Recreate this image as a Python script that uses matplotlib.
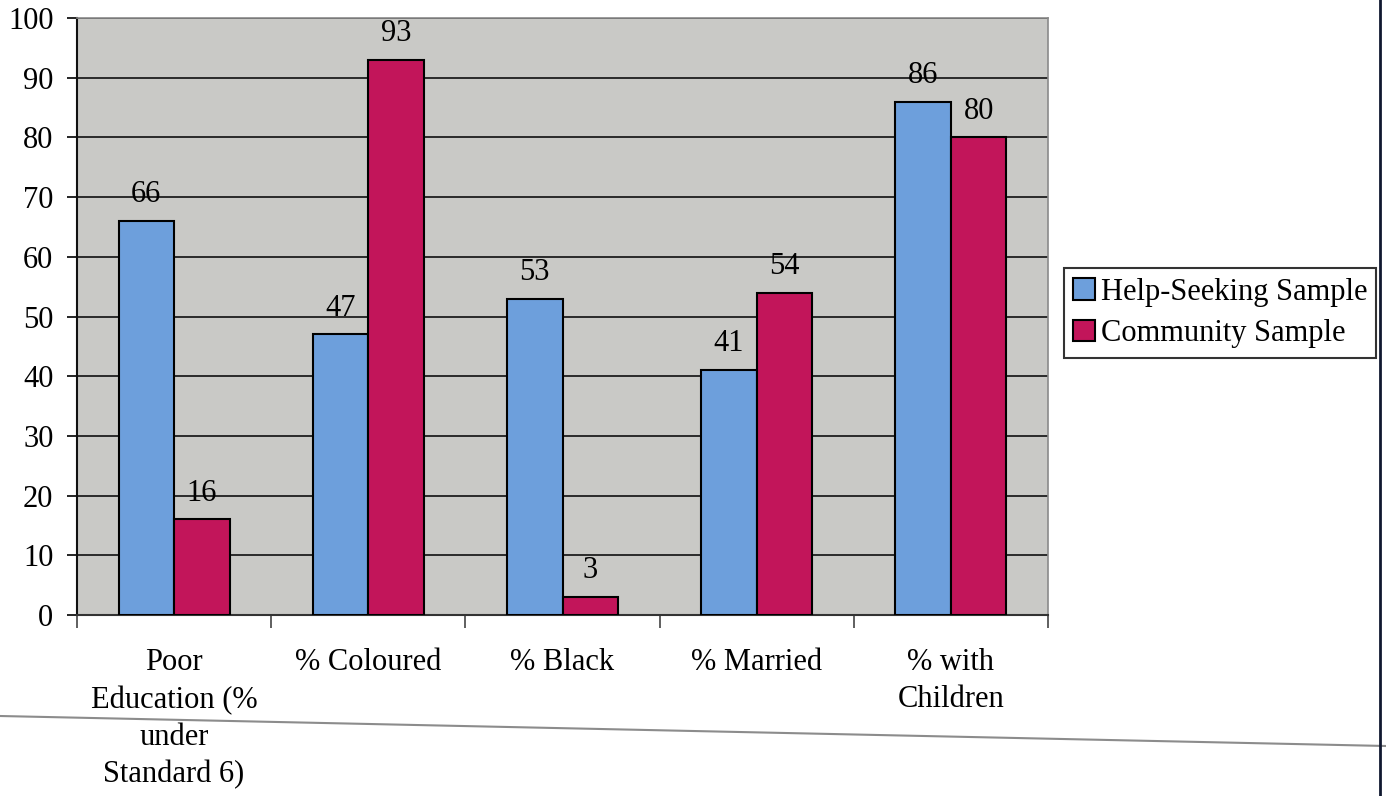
import matplotlib
matplotlib.use("Agg")
import matplotlib.pyplot as plt
import numpy as np
from matplotlib.lines import Line2D

plt.rcParams['font.family'] = ['Liberation Serif', 'DejaVu Serif']

categories = ["Poor\nEducation (%\nunder\nStandard 6)", "% Coloured", "% Black",
              "% Married", "% with\nChildren"]
help_seeking = [66, 47, 53, 41, 86]
community = [16, 93, 3, 54, 80]
series_names = ["Help-Seeking Sample", "Community Sample"]
y_ticks = list(range(0, 101, 10))

BLUE = "#6d9fdc"
RED = "#c2155a"
GREY_BG = "#c9c9c6"
FS = 22

W, H = 1386, 796
fig = plt.figure(figsize=(W / 100, H / 100), dpi=100)
ax = fig.add_axes([77 / W, 1 - 615 / H, (1048 - 77) / W, (615 - 18) / H])
ax.set_facecolor(GREY_BG)

x = np.arange(len(categories))
bw = 1 / 3.5
b1 = ax.bar(x - bw / 2, help_seeking, bw, color=BLUE, edgecolor="black",
            linewidth=1.5, label=series_names[0], zorder=3)
b2 = ax.bar(x + bw / 2, community, bw, color=RED, edgecolor="black",
            linewidth=1.5, label=series_names[1], zorder=3)

for bars, vals in ((b1, help_seeking), (b2, community)):
    for rect, v in zip(bars, vals):
        ax.annotate(f"{v}", (rect.get_x() + rect.get_width() / 2, v),
                    xytext=(0, 8.5), textcoords="offset points",
                    ha="center", va="bottom", fontsize=FS)

ax.set_xlim(-0.5, len(categories) - 0.5)
ax.set_ylim(0, 100)
ax.set_yticks(y_ticks)
ax.set_yticklabels([str(t) for t in y_ticks], fontsize=FS)
ax.grid(axis="y", color="#2a2a2a", linewidth=1.4, zorder=1)
ax.set_axisbelow(True)

ax.set_xticks(x)
ax.set_xticklabels(categories, fontsize=FS, linespacing=1.37)
ax.tick_params(axis="x", length=0, pad=24)
ax.set_xticks(np.arange(-0.5, len(categories)), minor=True)
ax.tick_params(axis="x", which="minor", length=9, width=1.2, color="#444444", direction="out")
ax.tick_params(axis="y", length=7, width=1.2, direction="out", pad=10)

for side in ("top", "right"):
    ax.spines[side].set_color("#8a8a8a")
    ax.spines[side].set_linewidth(1.2)
ax.spines["left"].set_linewidth(1.5)
ax.spines["bottom"].set_linewidth(1.5)
ax.spines["left"].set_color("#111111")
ax.spines["bottom"].set_color("#333333")

leg = fig.legend(loc="center left", bbox_to_anchor=(1064 / W, 1 - 313 / H),
                 fontsize=FS, frameon=True, fancybox=False, edgecolor="black",
                 handlelength=0.7, handleheight=0.7, handletextpad=0.2,
                 borderpad=0.3, labelspacing=0.42, borderaxespad=0)
leg.get_frame().set_linewidth(1.5)

# page rules around the figure
fig.add_artist(Line2D([0, 1], [1 - 716 / H, 1 - 746 / H], transform=fig.transFigure,
                      color="#8c8c8c", linewidth=1.5))
fig.add_artist(Line2D([1380 / W, 1380 / W], [0, 1], transform=fig.transFigure,
                      color="#101830", linewidth=2))

fig.savefig("out.png", dpi=100)
